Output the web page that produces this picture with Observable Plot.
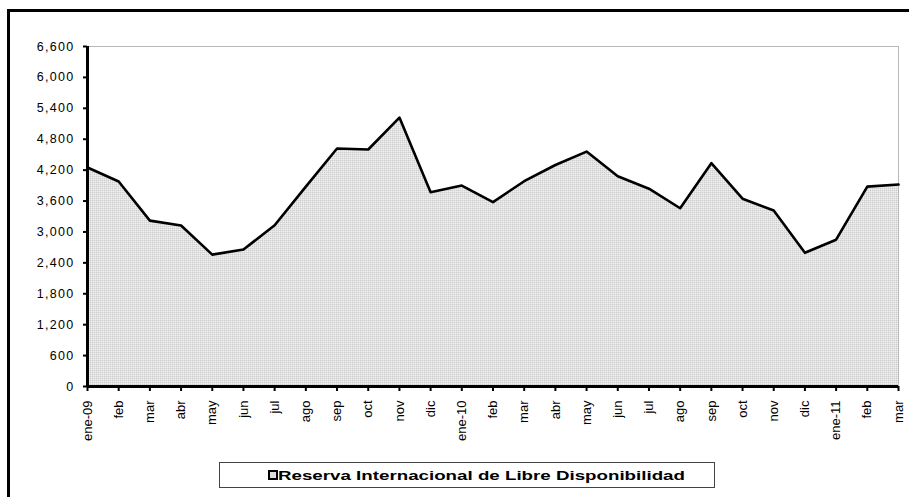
<!DOCTYPE html>
<html>
<head>
<meta charset="utf-8">
<script src="https://cdn.jsdelivr.net/npm/d3@7"></script>
<script src="https://cdn.jsdelivr.net/npm/@observablehq/plot@0.6"></script>
<style>
  html, body { margin: 0; padding: 0; background: #fff; overflow: hidden; }
  body { width: 909px; height: 497px; position: relative; font-family: "Liberation Sans", Arial, sans-serif; }
  #frame { position: absolute; left: 7px; top: 9px; width: 910px; height: 500px; border-left: 3px solid #000; border-top: 3px solid #000; box-sizing: border-box; }
  #chart { position: absolute; left: 0; top: 0; }
  #legend { position: absolute; left: 219px; top: 462px; }
</style>
</head>
<body>
<div id="frame"></div>
<div id="chart"></div>
<div id="legend"></div>
<script>
const months = ["ene-09","feb","mar","abr","may","jun","jul","ago","sep","oct","nov","dic",
                "ene-10","feb","mar","abr","may","jun","jul","ago","sep","oct","nov","dic",
                "ene-11","feb","mar"];
const reserva = [4250, 3980, 3220, 3125, 2560, 2660, 3130, 3880, 4620, 4600, 5220, 3770,
                 3900, 3580, 3985, 4300, 4560, 4080, 3840, 3460, 4335, 3645, 3415, 2595,
                 2850, 3880, 3920];
const yTicks = [0, 600, 1200, 1800, 2400, 3000, 3600, 4200, 4800, 5400, 6000, 6600];
const seriesName = "Reserva Internacional de Libre Disponibilidad";

const data = months.map((m, i) => ({i, month: m, value: reserva[i]}));
const idx = months.map((m, i) => i);

const plot = Plot.plot({
  width: 909,
  height: 455,
  marginLeft: 87,
  marginRight: 11,
  marginTop: 46,
  marginBottom: 69,
  style: {fontFamily: "'Liberation Sans', Arial, sans-serif", fontSize: "13px", color: "#000", background: "transparent"},
  x: {type: "linear", domain: [0, months.length - 1], label: null},
  y: {domain: [0, 6600], label: null},
  marks: [
    Plot.frame({stroke: "#b8b8b8", strokeWidth: 1}),
    Plot.areaY(data, {x: "i", y: "value", fill: "url(#dither)"}),
    Plot.lineY(data, {x: "i", y: "value", stroke: "#000", strokeWidth: 2.6}),
    Plot.ruleX([0], {stroke: "#000", strokeWidth: 3}),
    Plot.ruleY([0], {stroke: "#000", strokeWidth: 3}),
    Plot.axisX(idx, {
      anchor: "bottom", label: null, tickSize: 5, tickPadding: 9, tickRotate: -90,
      tickFormat: i => months[i], stroke: "#000", strokeWidth: 2, fontSize: 13
    }),
    Plot.axisY(yTicks, {
      anchor: "left", label: null, tickSize: 4, tickPadding: 9,
      tickFormat: d3.format(","), stroke: "#000", strokeWidth: 2, fontSize: 12.5
    })
  ]
});

// dithered light-gray fill like the original
const ns = "http://www.w3.org/2000/svg";
const defs = document.createElementNS(ns, "defs");
defs.innerHTML = `<pattern id="dither" width="2" height="2" patternUnits="userSpaceOnUse">
  <rect width="2" height="2" fill="#e3e3e3"/>
  <rect width="1" height="1" fill="#cccccc"/>
  <rect x="1" y="1" width="1" height="1" fill="#efefef"/>
</pattern>`;
plot.insertBefore(defs, plot.firstChild);

// widen y labels a little (original is horizontally stretched)
d3.select(plot).selectAll('g[aria-label="y-axis tick label"] text').attr("letter-spacing", "1.3px");

document.getElementById("chart").appendChild(plot);

// legend
const leg = d3.select("#legend").append("svg").attr("width", 497).attr("height", 27);
leg.append("rect").attr("x", 0.5).attr("y", 0.5).attr("width", 495).attr("height", 25)
  .attr("fill", "#fff").attr("stroke", "#444").attr("stroke-width", 1);
leg.append("rect").attr("x", 50).attr("y", 9).attr("width", 8).attr("height", 8)
  .attr("fill", "#ddd").attr("stroke", "#000").attr("stroke-width", 2);
leg.append("text").attr("x", 59).attr("y", 17.5)
  .attr("font-family", "'Liberation Sans', Arial, sans-serif")
  .attr("font-weight", "bold").attr("font-size", 12.5)
  .attr("textLength", 407).attr("lengthAdjust", "spacingAndGlyphs")
  .text(seriesName);
</script>
</body>
</html>
